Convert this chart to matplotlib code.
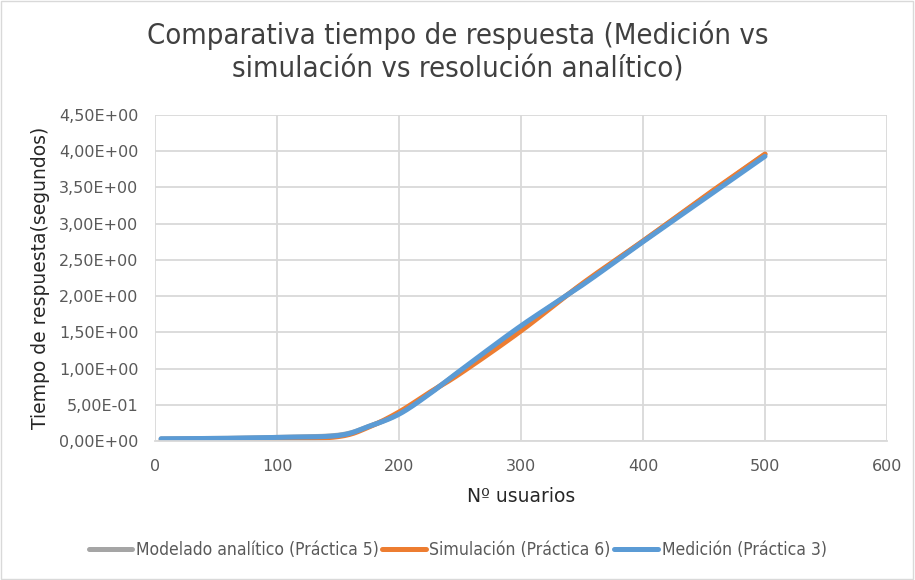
import numpy as np
import matplotlib
matplotlib.use("Agg")
import matplotlib.pyplot as plt
from matplotlib.ticker import FuncFormatter, MultipleLocator
from matplotlib.patches import Rectangle

# datos
usuarios = [5, 50, 100, 150, 175, 200, 225, 250, 300, 350, 400, 450, 500]
analitico = [0.03, 0.035, 0.05, 0.08, 0.20, 0.38, 0.66, 0.96, 1.57, 2.16, 2.76, 3.36, 3.96]
simulacion = [0.01, 0.01, 0.02, 0.06, 0.19, 0.40, 0.67, 0.93, 1.52, 2.17, 2.76, 3.37, 3.96]
medicion = [0.03, 0.035, 0.05, 0.075, 0.20, 0.37, 0.65, 0.97, 1.59, 2.15, 2.75, 3.34, 3.93]

series = [
    ("Modelado analítico (Práctica 5)", analitico, "#a5a5a5"),
    ("Simulación (Práctica 6)", simulacion, "#ed7d31"),
    ("Medición (Práctica 3)", medicion, "#5b9bd5"),
]


def suavizar(x, y, n=20):
    # curva tipo Catmull-Rom, como la linea suavizada de Excel
    x = np.asarray(x, float)
    y = np.asarray(y, float)
    px = np.concatenate([[2 * x[0] - x[1]], x, [2 * x[-1] - x[-2]]])
    py = np.concatenate([[2 * y[0] - y[1]], y, [2 * y[-1] - y[-2]]])
    xs, ys = [], []
    t = np.linspace(0, 1, n, endpoint=False)
    for i in range(1, len(px) - 2):
        for p, out in ((px, xs), (py, ys)):
            p0, p1, p2, p3 = p[i - 1], p[i], p[i + 1], p[i + 2]
            out.extend(0.5 * ((2 * p1) + (-p0 + p2) * t
                              + (2 * p0 - 5 * p1 + 4 * p2 - p3) * t ** 2
                              + (-p0 + 3 * p1 - 3 * p2 + p3) * t ** 3))
    xs.append(x[-1])
    ys.append(y[-1])
    return np.array(xs), np.array(ys)


plt.rcParams['font.family'] = 'DejaVu Sans'

fig = plt.figure(figsize=(9.15, 5.8), dpi=100)
fig.patches.append(Rectangle((0.001, 0.001), 0.997, 0.997, transform=fig.transFigure,
                             fill=False, edgecolor="#d9d9d9", linewidth=1))
ax = fig.add_axes([155 / 915, 1 - 441 / 580, 732 / 915, 326 / 580])

for nombre, valores, color in series:
    sx, sy = suavizar(usuarios, valores)
    ax.plot(sx, sy, color=color, linewidth=3.6, label=nombre, solid_capstyle="round")

ax.set_xlim(0, 600)
ax.set_ylim(0, 4.5)
ax.xaxis.set_major_locator(MultipleLocator(100))
ax.yaxis.set_major_locator(MultipleLocator(0.5))
ax.yaxis.set_major_formatter(FuncFormatter(lambda v, p: f"{v:.2E}".replace(".", ",")))
ax.grid(True, color="#d9d9d9", linewidth=1.3)
ax.set_axisbelow(True)
for s in ["top", "right", "left"]:
    ax.spines[s].set_visible(False)
ax.spines["bottom"].set_color("#d9d9d9")
ax.spines["bottom"].set_linewidth(1.3)
ax.tick_params(length=0, labelsize=11.5, colors="#595959")
ax.tick_params(axis="x", pad=13)
ax.tick_params(axis="y", pad=12)

ax.set_xlabel("Nº usuarios", fontsize=13.5, color="#262626", labelpad=9)
ax.set_ylabel("Tiempo de respuesta(segundos)", fontsize=13.5, color="#262626", labelpad=6)

fig.text(0.5, 0.911, "Comparativa tiempo de respuesta (Medición vs\nsimulación vs resolución analítico)",
         ha="center", va="center", fontsize=21, color="#404040", linespacing=1.25,
         fontstretch="condensed")

fig.legend(loc="center", bbox_to_anchor=(0.5, 0.051), ncol=3, frameon=False,
           prop={"size": 12.6, "stretch": "condensed"}, handlelength=2.5,
           handletextpad=0.2, columnspacing=0.2, labelcolor="#595959")

fig.savefig("out.png", dpi=100)
